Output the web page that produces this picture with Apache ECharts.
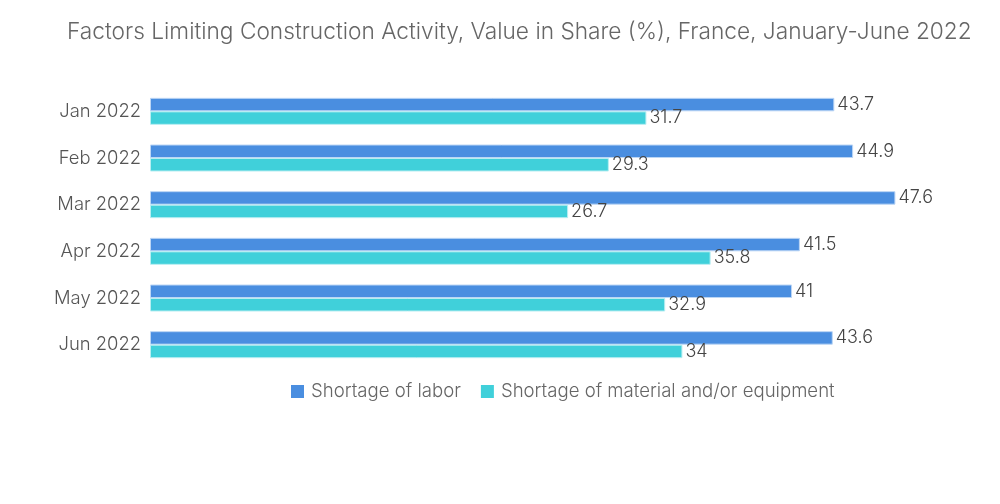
<!DOCTYPE html>
<html><head><meta charset="utf-8">
<script src="https://cdn.jsdelivr.net/npm/echarts@6/dist/echarts.min.js"></script>
<style>html,body{margin:0;padding:0;background:#fff}#c{width:1000px;height:504px}</style>
</head><body><div id="c"></div>
<script>
const categories = ["Jan 2022","Feb 2022","Mar 2022","Apr 2022","May 2022","Jun 2022"];
const labor = [43.7, 44.9, 47.6, 41.5, 41, 43.6];
const material = [31.7, 29.3, 26.7, 35.8, 32.9, 34];
const seriesNames = ["Shortage of labor","Shortage of material and/or equipment"];
const FONT = 'Inter';
const chart = echarts.init(document.getElementById('c'));
const lbl = {show:true, position:'right', distance:3, color:'#444', fontSize:18, fontWeight:300, fontFamily:FONT};
chart.setOption({
  animation:false,
  title:{text:'Factors Limiting Construction Activity, Value in Share (%), France, January-June 2022',
    left:62, top:16, textStyle:{color:'#666', fontSize:22.7, fontWeight:300, fontFamily:FONT}},
  legend:{data:seriesNames, left:286, top:377, itemWidth:13, itemHeight:13, itemGap:20,
    itemStyle:{borderWidth:0},
    textStyle:{color:'#666', fontSize:18.6, fontWeight:300, fontFamily:FONT, padding:[0,0,0,2]}, icon:'rect'},
  grid:{left:150, right:67, top:88, bottom:136, containLabel:false},
  xAxis:{type:'value', min:0, max:50, show:false},
  yAxis:{type:'category', data:categories, inverse:true,
    axisLine:{show:false}, axisTick:{show:false},
    axisLabel:{color:'#555', fontSize:18.4, fontWeight:300, fontFamily:FONT, margin:9}},
  series:[
    {name:seriesNames[0], type:'bar', data:labor, barWidth:13.5, barGap:'0%',
      itemStyle:{color:'#4a8ee0', borderColor:'#bcd6f5', borderWidth:1}, label:lbl},
    {name:seriesNames[1], type:'bar', data:material, barWidth:13.5,
      itemStyle:{color:'#40d0da', borderColor:'#b8eef2', borderWidth:1}, label:lbl}
  ]
});
</script></body></html>
